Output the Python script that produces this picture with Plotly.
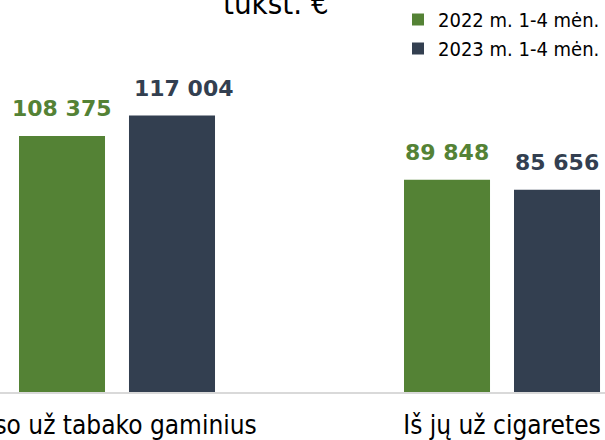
import plotly.graph_objects as go

categories = ["Iš viso už tabako gaminius", "Iš jų už cigaretes"]
tick_labels = ["Iš viso už tabako gaminius" + "\u00a0" * 4, "Iš jų už cigaretes"]
series_names = ["2022 m. 1-4 mėn.", "2023 m. 1-4 mėn."]
values_2022 = [108375, 89848]
values_2023 = [117004, 85656]
colors = ["#548235", "#333F50"]
title_text = "tūkst. €"

FONT = "DejaVu Sans Condensed, DejaVu Sans"
# small manual nudges of individual value labels (series index, category index) -> px
label_nudge = {(1, 0): 12}

def fmt(v):
    return f"{v:,}".replace(",", " ")

fig = go.Figure()
for name, vals, col in zip(series_names, [values_2022, values_2023], colors):
    fig.add_trace(go.Bar(
        x=categories, y=vals, name=name,
        marker=dict(color=col, line=dict(width=0)),
        hoverinfo="skip",
    ))

annotations = []
for i, (vals, col) in enumerate(zip([values_2022, values_2023], colors)):
    shift = -55 if i == 0 else 55
    for j, (c, v) in enumerate(zip(categories, vals)):
        annotations.append(dict(
            x=c, y=v, xref="x", yref="y", text=f"<b>{fmt(v)}</b>",
            showarrow=False, xshift=shift + label_nudge.get((i, j), 0),
            yshift=13, yanchor="bottom",
            font=dict(family="DejaVu Sans", size=22, color=col),
        ))

annotations.append(dict(
    x=276 / 605, y=1, xref="paper", yref="paper", text=title_text,
    showarrow=False, xanchor="center", yanchor="middle", yshift=-3,
    font=dict(family=FONT, size=31, color="#000000"),
))

fig.update_layout(
    template="none",
    width=605, height=440,
    margin=dict(l=0, r=0, t=0, b=48, pad=0),
    paper_bgcolor="white", plot_bgcolor="white",
    barmode="group", bargap=0.4286, bargroupgap=0.218,
    showlegend=True,
    legend=dict(x=1.0, y=1.0, xanchor="right", yanchor="top",
                font=dict(family=FONT, size=20, color="#000000"),
                itemwidth=30, bgcolor="rgba(0,0,0,0)", borderwidth=0),
    xaxis=dict(type="category", range=[-0.3039, 1.2675], automargin=False,
               tickmode="array", tickvals=categories, ticktext=tick_labels,
               showline=True, linecolor="#D9D9D9", linewidth=1.5,
               ticks="", showgrid=False, zeroline=False, ticklabelstandoff=9,
               tickfont=dict(family=FONT, size=26, color="#000000")),
    yaxis=dict(range=[0, 165950], visible=False, showgrid=False,
               zeroline=False, automargin=False),
    annotations=annotations,
    font=dict(family=FONT),
)

fig.write_html("out.html", config={"displayModeBar": False},
               post_script="document.body.style.margin='0';")
